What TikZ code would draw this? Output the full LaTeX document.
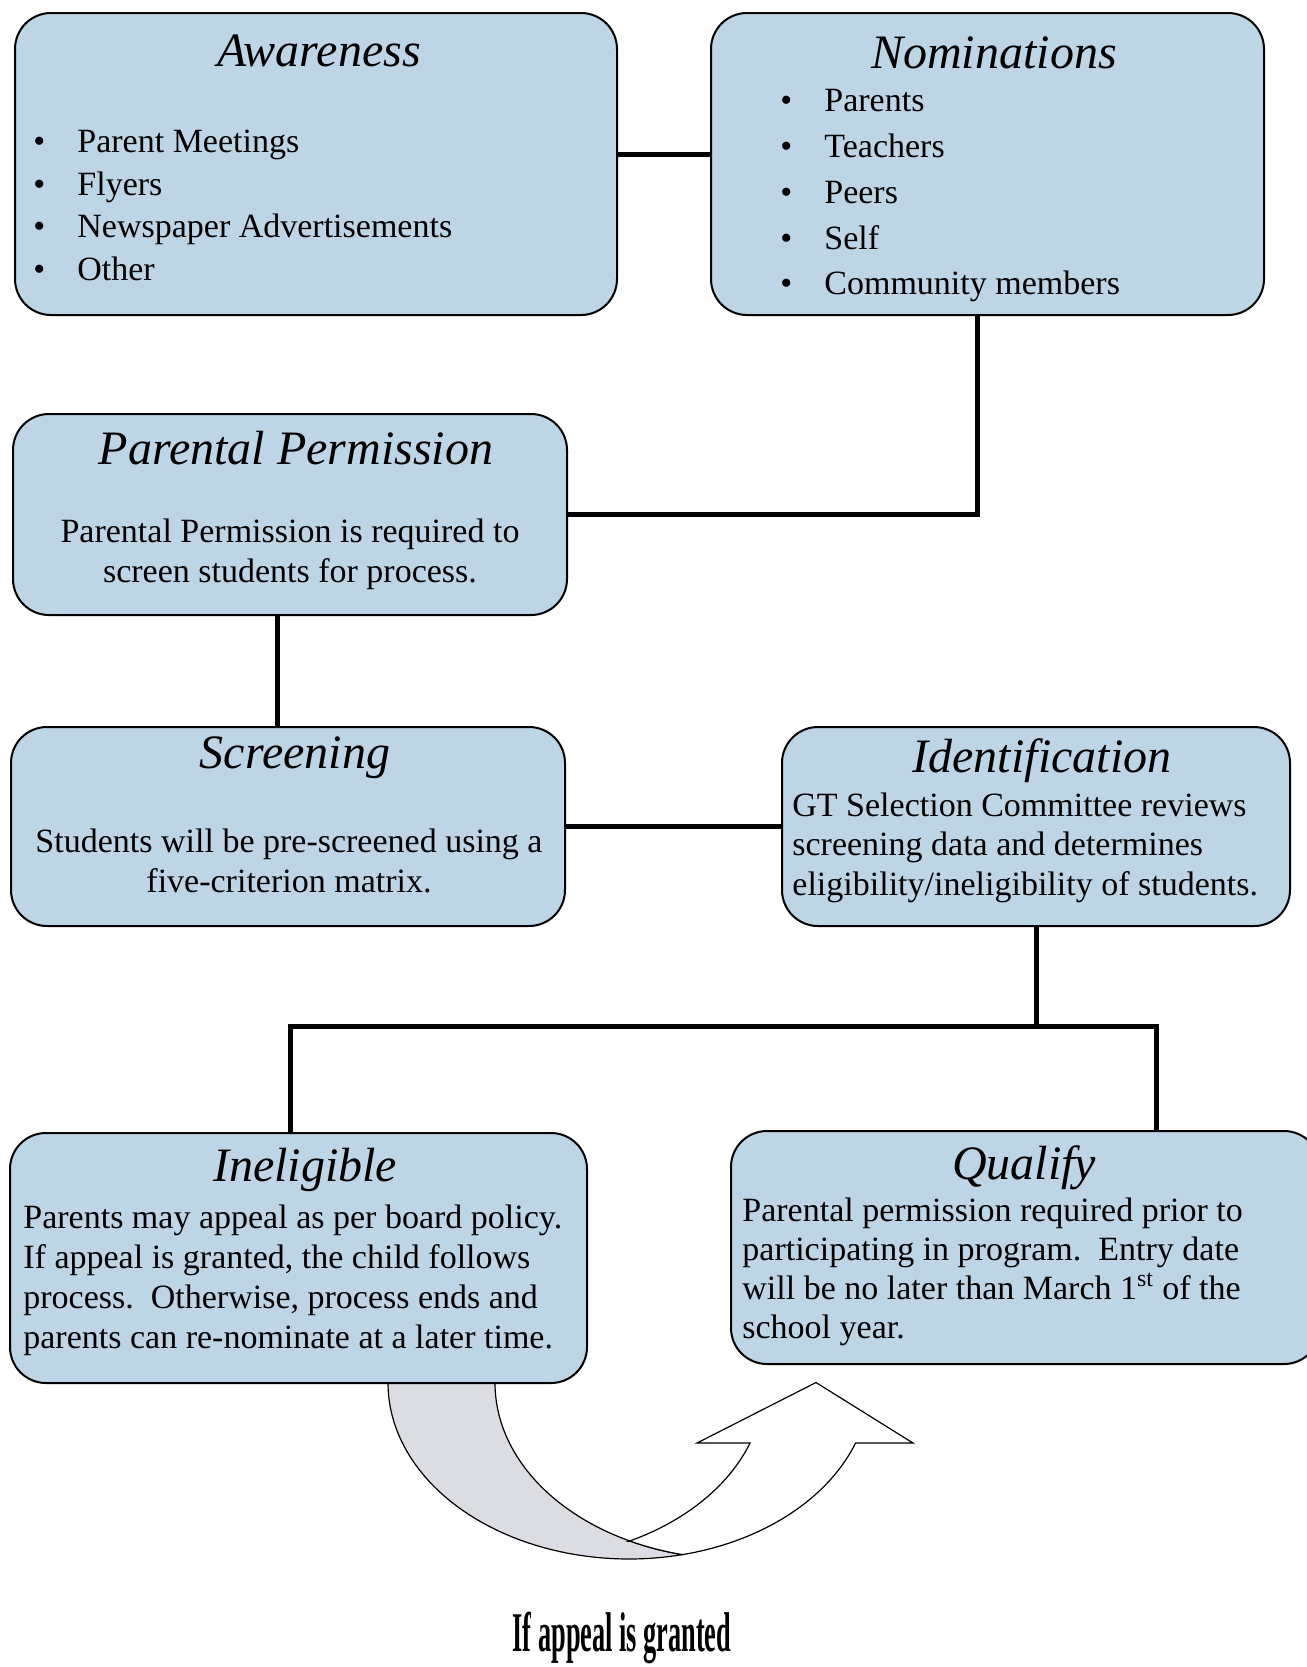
\documentclass[tikz,border=0pt]{standalone}
\usepackage{fontspec}
\setmainfont{Liberation Serif}
\usepackage{graphicx}
\definecolor{stageblue}{RGB}{189,213,229}
\definecolor{backgrey}{RGB}{219,221,226}
\newcommand\headfont{\fontsize{24}{28}\selectfont\itshape}
\newcommand\bodyfont{\fontsize{17}{20}\selectfont}
\newcommand\bul{\makebox[22pt][l]{\textbullet}}
\begin{document}
\begin{tikzpicture}[x=0.5pt,y=-0.5pt,
    stage/.style={draw,line width=1pt,fill=stageblue,rounded corners=18pt,inner sep=0pt},
    heading/.style={font=\headfont,inner sep=0pt},
    body/.style={font=\bodyfont,inner sep=0pt,align=#1},
    body/.default=left,
    link/.style={line width=2.5pt},
    granted/.style={font=\fontsize{28}{30}\selectfont\bfseries,inner sep=0pt}]
 \useasboundingbox (0,0) rectangle (1307,1667);
 % curved arrow: back of the band, then the front with its head
 \filldraw[fill=backgrey,line width=0.6pt] (388,1370)
   -- plot[domain=180:77.2,samples=50] ({629+241*cos(\x)},{1383+176*sin(\x)})
   -- plot[domain=102.8:180,samples=50] ({736+241*cos(\x)},{1383+176*sin(\x)})
   -- (495,1370) -- cycle;
 \filldraw[fill=white,line width=0.6pt]
   plot[domain=77.2:19.93,samples=40] ({629+241*cos(\x)},{1383+176*sin(\x)})
   -- (913,1443) -- (816,1382.5) -- (697,1443)
   -- plot[domain=19.93:64.1,samples=40] ({523.5+241*cos(\x)},{1383+176*sin(\x)})
   -- plot[domain=115.9:102.8,samples=10] ({736+241*cos(\x)},{1383+176*sin(\x)})
   -- cycle;
 % stages
 \node[stage,minimum width=301pt,minimum height=151pt] (aware) at (316,164) {};
 \node[stage,minimum width=276.5pt,minimum height=151pt] (nom) at (987.5,164) {};
 \node[stage,minimum width=277pt,minimum height=100.5pt] (perm) at (290,514.5) {};
 \node[stage,minimum width=277pt,minimum height=99.5pt] (screen) at (288,826.5) {};
 \node[stage,minimum width=254pt,minimum height=99.5pt] (ident) at (1036,826.5) {};
 \node[stage,minimum width=288.5pt,minimum height=125pt] (inel) at (298.5,1258) {};
 \node[stage,minimum width=294.5pt,minimum height=116.5pt] (qual) at (1025.5,1247.5) {};
 % headings
 \node[heading] (aware-h) at (319,51) {Awareness};
 \node[heading] (nom-h) at (994,53) {Nominations};
 \node[heading] (perm-h) at (296,448) {Parental Permission};
 \node[heading] (screen-h) at (295,758) {Screening};
 \node[heading] (ident-h) at (1042,761) {Identification};
 \node[heading] (inel-h) at (305,1170) {Ineligible};
 \node[heading] (qual-h) at (1024,1168) {Qualify};
 % texts
 \node[body,font=\fontsize{17}{21.2}\selectfont,anchor=north west] (aware-t) at (33,130)
   {\bul Parent Meetings\\ \bul Flyers\\ \bul Newspaper Advertisements\\ \bul Other};
 \node[body,font=\fontsize{17}{22.9}\selectfont,anchor=north west] (nom-t) at (780,89)
   {\bul Parents\\ \bul Teachers\\ \bul Peers\\ \bul Self\\ \bul Community members};
 \node[body=center,anchor=north] (perm-t) at (290,518)
   {Parental Permission is required to\\ screen students for process.};
 \node[body=center,anchor=north] (screen-t) at (289,828)
   {Students will be pre-screened using a\\ five-criterion matrix.};
 \node[body,font=\fontsize{17}{19.75}\selectfont,anchor=north west] (ident-t) at (792,792)
   {GT Selection Committee reviews\\ screening data and determines\\ eligibility/ineligibility of students.};
 \node[body,anchor=north west] (inel-t) at (23,1204)
   {Parents may appeal as per board policy.\\ If appeal is granted, the child follows\\
    process.\ \ Otherwise, process ends and\\ parents can re-nominate at a later time.};
 \node[body,font=\fontsize{17}{19.5}\selectfont,anchor=north west] (qual-t) at (742,1197)
   {Parental permission required prior to\\ participating in program.\ \ Entry date\\
    will be no later than March 1\textsuperscript{st} of the\\ school year.};
 % connectors
 \draw[link] ([yshift=5pt]aware.east) -- ([yshift=5pt]aware.east -| nom.west);
 \draw[link] ([xshift=-5.25pt]nom.south) |- (perm.east);
 \draw[link] ([xshift=-6.5pt]perm.south) -- ([xshift=-6.5pt]perm.south |- screen.north);
 \draw[link] (screen.east) -- (ident.west);
 \coordinate (forkL) at (290,1026);
 \coordinate (forkR) at (1156,1026);
 \draw[link] (ident.south) -- (ident.south |- forkL);
 \draw[link] (forkL |- inel.north) -- (forkL) -- (forkR) -- (forkR |- qual.north);
 \node[granted] (grant) at (622,1638) {\scalebox{0.47}[1]{If appeal is granted}};
\end{tikzpicture}
\end{document}
